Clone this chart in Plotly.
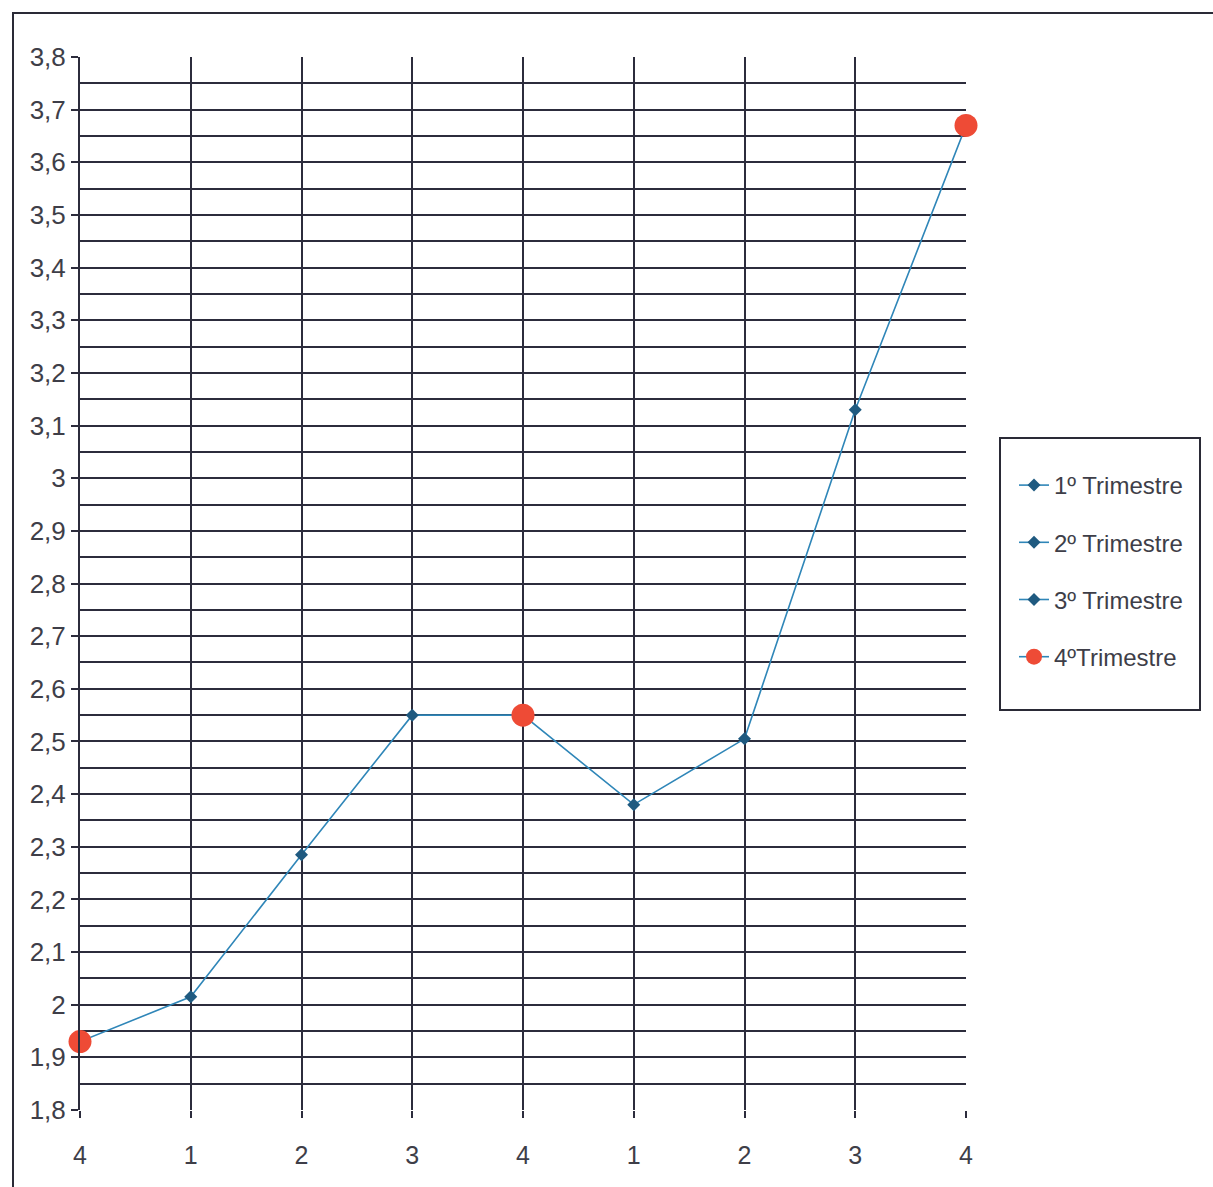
import plotly.graph_objects as go

# Quarterly series: category labels along the x axis and measured values
x_labels = ["4", "1", "2", "3", "4", "1", "2", "3", "4"]
values = [1.93, 2.015, 2.285, 2.55, 2.55, 2.38, 2.505, 3.13, 3.67]
quarters = [4, 1, 2, 3, 4, 1, 2, 3, 4]
series_names = {1: "1º Trimestre", 2: "2º Trimestre", 3: "3º Trimestre", 4: "4ºTrimestre"}

y_ticks = [1.8, 1.9, 2.0, 2.1, 2.2, 2.3, 2.4, 2.5, 2.6, 2.7, 2.8, 2.9, 3.0,
           3.1, 3.2, 3.3, 3.4, 3.5, 3.6, 3.7, 3.8]
y_tick_text = ["1,8", "1,9", "2", "2,1", "2,2", "2,3", "2,4", "2,5", "2,6", "2,7",
               "2,8", "2,9", "3", "3,1", "3,2", "3,3", "3,4", "3,5", "3,6", "3,7", "3,8"]

LINE_BLUE = "#2f86b8"
DIAMOND = "#1f5a80"
RED = "#ee4b36"
GRID = "#2c2c3c"
TEXT = "#3e3e48"

# plot-area geometry in pixels (used to place the legend and frames)
W, H = 1213, 1187
L, R, T, B = 80, 966, 57, 1110
PW, PH = R - L, B - T


def px_x(x):
    return (x - L) / PW


def px_y(y):
    return (B - y) / PH


xpos = list(range(len(values)))

fig = go.Figure()

# connecting line through every point
fig.add_trace(go.Scatter(
    x=xpos, y=values, mode="lines",
    line=dict(color=LINE_BLUE, width=1.6),
    showlegend=False, hoverinfo="skip", cliponaxis=False,
))

# one marker trace per quarter (gaps elsewhere so no extra segments are drawn)
for q in (1, 2, 3, 4):
    ys = [v if qq == q else None for v, qq in zip(values, quarters)]
    if q == 4:
        marker = dict(symbol="circle", size=23, color=RED, line=dict(width=0))
    else:
        marker = dict(symbol="diamond", size=10, color=DIAMOND, line=dict(width=0))
    fig.add_trace(go.Scatter(
        x=xpos, y=ys, mode="lines+markers", name=series_names[q],
        line=dict(color=LINE_BLUE, width=1.6), marker=marker,
        connectgaps=False, cliponaxis=False, legendgroup=f"q{q}",
    ))

# outer frame around the whole chart
fig.add_shape(type="rect", xref="paper", yref="paper",
              x0=px_x(13), x1=px_x(1240), y0=px_y(1200), y1=px_y(13),
              line=dict(color="#2a2a36", width=2), fillcolor="rgba(0,0,0,0)",
              layer="below")

# legend box
fig.add_shape(type="rect", xref="paper", yref="paper",
              x0=px_x(1000), x1=px_x(1200), y0=px_y(710), y1=px_y(438),
              line=dict(color="#2a2a36", width=2), fillcolor="rgba(0,0,0,0)")

fig.update_layout(
    width=W, height=H,
    margin=dict(l=L, r=W - R, t=T, b=H - B),
    paper_bgcolor="white", plot_bgcolor="white",
    font=dict(family="Liberation Sans, Arial, sans-serif", size=24, color=TEXT),
    separators=",.",
    xaxis=dict(
        range=[0, 8], tickmode="array", tickvals=xpos, ticktext=x_labels,
        showgrid=True, gridcolor=GRID, gridwidth=2,
        showline=False, zeroline=False,
        ticks="outside", ticklen=7, tickwidth=2, tickcolor=GRID,
        ticklabelstandoff=16,
        tickfont=dict(size=25, color=TEXT),
    ),
    yaxis=dict(
        range=[1.8, 3.8], tickmode="array", tickvals=y_ticks, ticktext=y_tick_text,
        showgrid=True, gridcolor=GRID, gridwidth=2,
        minor=dict(dtick=0.05, tick0=1.8, showgrid=True, gridcolor=GRID, gridwidth=2),
        showline=True, linecolor=GRID, linewidth=2,
        zeroline=False,
        ticks="outside", ticklen=7, tickwidth=2, tickcolor=GRID,
        tickfont=dict(size=26, color=TEXT),
    ),
    legend=dict(
        x=px_x(1014), y=px_y(463),
        xanchor="left", yanchor="top",
        borderwidth=0, bgcolor="rgba(0,0,0,0)",
        font=dict(size=24, color=TEXT),
        tracegroupgap=23, itemsizing="trace",
    ),
)

fig.write_html("out.html")
